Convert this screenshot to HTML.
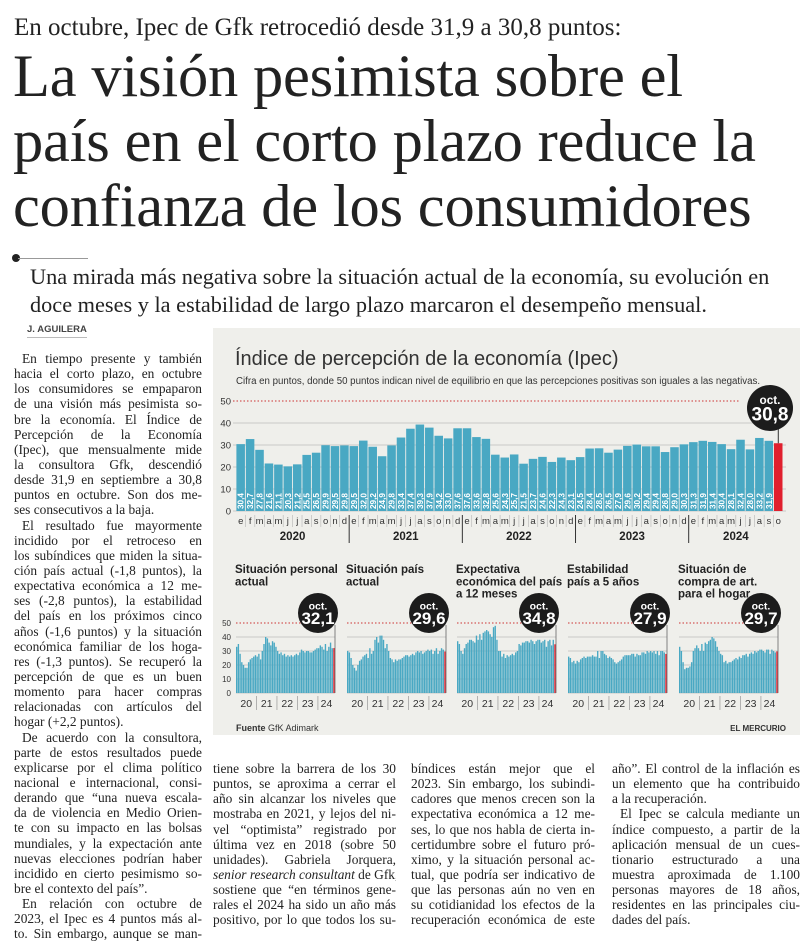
<!DOCTYPE html>
<html><head><meta charset="utf-8">
<style>
*{margin:0;padding:0;box-sizing:border-box}
body{width:811px;height:931px;background:#fff;position:relative;overflow:hidden;font-family:"Liberation Serif",serif;color:#222}
.abs{position:absolute}
.kicker{left:14px;top:14px;font-size:25px;white-space:nowrap}
.title{left:13px;top:44px;font-size:60.5px;line-height:65px;white-space:nowrap;letter-spacing:-0.2px}
.lead{left:30px;top:263px;font-size:22.3px;line-height:28px;white-space:nowrap}
.by{left:27px;top:324px;font-family:"Liberation Sans",sans-serif;font-size:9.5px;font-weight:bold;color:#444;border-bottom:1px solid #bbb;padding-bottom:2px}
.col{font-size:13.4px;line-height:15.15px}
.col div{text-align:justify;text-align-last:justify;white-space:nowrap;overflow:hidden;height:15.15px}
.col div.e{text-align-last:left}
.col div.i{text-indent:8px}
.box{left:213px;top:328px;width:587px;height:407px;background:#efefeb}
</style></head><body>
<div class="abs kicker">En octubre, Ipec de Gfk retrocedió desde 31,9 a 30,8 puntos:</div>
<div class="abs title">La visión pesimista sobre el<br>país en el corto plazo reduce la<br>confianza de los consumidores</div>
<div class="abs" style="left:12px;top:254px;width:8px;height:8px;border-radius:50%;background:#222"></div>
<div class="abs" style="left:18px;top:258px;width:70px;height:1px;background:#999"></div>
<div class="abs lead">Una mirada más negativa sobre la situación actual de la economía, su evolución en<br>doce meses y la estabilidad de largo plazo marcaron el desempeño mensual.</div>
<div class="abs by">J. AGUILERA</div>
<div class="abs box"></div>

<div class="abs col" style="left:14px;top:351px;width:188px">
<div class="i">En tiempo presente y también</div><div>hacia el corto plazo, en octubre</div><div>los consumidores se empaparon</div><div>de una visión más pesimista so-</div><div>bre la economía. El Índice de</div><div>Percepción de la Economía</div><div>(Ipec), que mensualmente mide</div><div>la consultora Gfk, descendió</div><div>desde 31,9 en septiembre a 30,8</div><div>puntos en octubre. Son dos me-</div><div class="e">ses consecutivos a la baja.</div>
<div class="i">El resultado fue mayormente</div><div>incidido por el retroceso en</div><div>los subíndices que miden la situa-</div><div>ción país actual (-1,8 puntos), la</div><div>expectativa económica a 12 me-</div><div>ses (-2,8 puntos), la estabilidad</div><div>del país en los próximos cinco</div><div>años (-1,6 puntos) y la situación</div><div>económica familiar de los hoga-</div><div>res (-1,3 puntos). Se recuperó la</div><div>percepción de que es un buen</div><div>momento para hacer compras</div><div>relacionadas con artículos del</div><div class="e">hogar (+2,2 puntos).</div>
<div class="i">De acuerdo con la consultora,</div><div>parte de estos resultados puede</div><div>explicarse por el clima político</div><div>nacional e internacional, consi-</div><div>derando que “una nueva escala-</div><div>da de violencia en Medio Orien-</div><div>te con su impacto en las bolsas</div><div>mundiales, y la expectación ante</div><div>nuevas elecciones podrían haber</div><div>incidido en cierto pesimismo so-</div><div class="e">bre el contexto del país”.</div>
<div class="i">En relación con octubre de</div><div>2023, el Ipec es 4 puntos más al-</div><div>to. Sin embargo, aunque se man-</div>
</div>
<div class="abs col" style="left:213px;top:761px;width:183px">
<div>tiene sobre la barrera de los 30</div><div>puntos, se aproxima a cerrar el</div><div>año sin alcanzar los niveles que</div><div>mostraba en 2021, y lejos del ni-</div><div>vel “optimista” registrado por</div><div>última vez en 2018 (sobre 50</div><div>unidades). Gabriela Jorquera,</div><div><i>senior research consultant</i> de Gfk,</div><div>sostiene que “en términos gene-</div><div>rales el 2024 ha sido un año más</div><div>positivo, por lo que todos los su-</div>
</div>
<div class="abs col" style="left:411px;top:761px;width:184px">
<div>bíndices están mejor que el</div><div>2023. Sin embargo, los subindi-</div><div>cadores que menos crecen son la</div><div>expectativa económica a 12 me-</div><div>ses, lo que nos habla de cierta in-</div><div>certidumbre sobre el futuro pró-</div><div>ximo, y la situación personal ac-</div><div>tual, que podría ser indicativo de</div><div>que las personas aún no ven en</div><div>su cotidianidad los efectos de la</div><div>recuperación económica de este</div>
</div>
<div class="abs col" style="left:612px;top:761px;width:188px">
<div>año”. El control de la inflación es</div><div>un elemento que ha contribuido</div><div class="e">a la recuperación.</div><div class="i">El Ipec se calcula mediante un</div><div>índice compuesto, a partir de la</div><div>aplicación mensual de un cues-</div><div>tionario estructurado a una</div><div>muestra aproximada de 1.100</div><div>personas mayores de 18 años,</div><div>residentes en las principales ciu-</div><div class="e">dades del país.</div>
</div>

<svg id="chart" class="abs" style="left:0;top:0" width="811" height="931" font-family="Liberation Sans, sans-serif">
<text x="235" y="365" font-size="20" fill="#333">Índice de percepción de la economía (Ipec)</text>
<text x="236" y="384" font-size="9.7" fill="#333">Cifra en puntos, donde 50 puntos indican nivel de equilibrio en que las percepciones positivas son iguales a las negativas.</text>
<text x="236" y="731" font-size="9" fill="#333"><tspan font-weight="bold">Fuente</tspan>  GfK Adimark</text>
<text x="786" y="731" font-size="8" font-weight="bold" fill="#333" text-anchor="end">EL MERCURIO</text>
</svg>
<script>
const mainValues=[30.4,32.7,27.8,21.6,21.1,20.3,21.2,25.5,26.5,29.9,29.5,29.8,
29.5,32.0,29.2,24.9,29.8,33.4,37.4,39.3,37.9,34.2,33.0,37.6,
37.6,33.6,32.8,25.6,24.3,25.7,21.5,23.7,24.6,22.3,24.3,23.1,
24.5,28.4,28.5,26.5,27.9,29.6,30.2,29.4,29.4,26.8,29.0,30.3,
31.3,31.9,31.4,30.4,28.1,32.4,28.0,33.2,31.9,30.8];
const years=["2020","2021","2022","2023","2024"];
const monthLetters=["e","f","m","a","m","j","j","a","s","o","n","d"];
const yTicks=[0,10,20,30,40,50];
const subTitles=[["Situación personal","actual"],["Situación país","actual"],["Expectativa","económica del país","a 12 meses"],["Estabilidad","país a 5 años"],["Situación de","compra de art.","para el hogar"]];
const subLatest=["32,1","29,6","34,8","27,9","29,7"];
const subPersonal=[33,35,28,22,20,18,18,22,24,25,26,27,26,28,24,30,35,40,39,36,34,37,36,33,30,28,29,27,28,26,27,26,27,26,27,28,27,29,31,30,29,30,30,29,29,30,31,32,32,34,33,31,35,30,33,36,32,32.1];
const subPais=[30,29,25,20,18,16,20,23,24,26,27,28,25,32,28,30,38,40,36,41,41,38,32,35,30,25,24,22,24,23,24,24,25,26,27,27,26,27,28,27,29,30,29,30,28,29,30,31,30,31,28,30,32,28,30,32,31,29.6];
const subExpect=[37,35,30,28,32,35,36,38,38,37,36,41,38,42,38,43,44,45,44,42,40,47,48,38,30,30,26,28,25,27,26,27,28,27,29,30,35,34,36,36,37,37,36,38,37,35,37,38,38,36,37,38,33,37,38,34,38,34.8];
const subEstab=[26,25,22,23,21,23,22,24,25,26,25,26,26,26,27,26,26,30,25,30,30,28,27,25,26,25,24,22,21,22,23,24,26,27,27,27,27,28,28,26,28,27,27,29,29,28,30,29,30,29,30,28,30,27,30,30,29,27.9];
const subCompra=[33,30,22,17,18,18,19,22,30,32,34,32,30,35,30,36,35,37,38,40,39,37,33,30,28,27,22,23,21,22,22,23,24,25,24,26,25,27,27,28,26,28,29,28,30,29,30,31,31,30,29,31,31,28,31,30,29,29.7];
const subSeries=[subPersonal,subPais,subExpect,subEstab,subCompra];
const subYears=["20","21","22","23","24"];

const NS="http://www.w3.org/2000/svg";
const svg=document.getElementById('chart');
function mk(tag,attrs,parent){const e=document.createElementNS(NS,tag);for(const k in attrs)e.setAttribute(k,attrs[k]);(parent||svg).appendChild(e);return e;}
const BLUE="#49a8c3",RED="#e0202e";
const mx0=236,mx1=783,my0=511,mPer=2.2;
const n=mainValues.length, pitch=(mx1-mx0)/n;
const xM=i=>mx0+i*pitch, yM=v=>my0-v*mPer;
yTicks.forEach(t=>{
  const l=mk('line',{x1:233,x2:t===50?740:786,y1:yM(t),y2:yM(t),stroke:t===50?"#c33":"#bbb","stroke-width":t===50?1:0.8,"stroke-dasharray":t===50?"1.5,2":"none"});
  
  
  const tx=mk('text',{x:231,y:yM(t)+3.5,"font-size":9.5,fill:"#333","text-anchor":"end"});tx.textContent=t;
  
  
});
mainValues.forEach((v,i)=>{
  const last=i===n-1;
  const r=mk('rect',{x:xM(i)+0.4,y:yM(v),width:pitch-0.9,height:v*mPer,fill:last?RED:BLUE});
  
  
  if(!last){
    const cx=xM(i)+pitch/2+3;
    const t=mk('text',{x:cx,y:my0-2,"font-size":8.2,"font-weight":"bold",fill:"#fff",transform:`rotate(-90 ${cx} ${my0-2})`});
    t.textContent=v.toFixed(1).replace('.',',');
    
    
  }
  const ml=mk('text',{x:xM(i)+pitch/2,y:524,"font-size":9.5,fill:"#333","text-anchor":"middle"});
  ml.textContent=monthLetters[i%12];
  
  
  if(i>0){const sl=mk('line',{x1:xM(i),x2:xM(i),y1:515,y2:527,stroke:i%12===0?"#333":"#aaa","stroke-width":i%12===0?1:0.5});
    if(i%12===0)sl.setAttribute('y2',543);}
});
years.forEach((y,k)=>{
  const cnt=Math.min(12,n-k*12);
  const t=mk('text',{x:xM(k*12)+cnt*pitch/2,y:540,"font-size":11.5,"font-weight":"bold",fill:"#222","text-anchor":"middle"});
  t.textContent=y;
  
  
});
function badge(cx,cy,r,val,fs,name){
  const g=mk('g',{});
  
  
  mk('circle',{cx:cx,cy:cy,r:r,fill:"#1c1c1c"},g);
  const a=mk('text',{x:cx,y:cy-r*0.18,"font-size":fs*0.62,"font-weight":"bold",fill:"#fff","text-anchor":"middle"},g);a.textContent="oct.";
  const b=mk('text',{x:cx,y:cy+r*0.55,"font-size":fs,"font-weight":"bold",fill:"#fff","text-anchor":"middle"},g);b.textContent=val;
}
mk('line',{x1:xM(n-1)+pitch/2,x2:xM(n-1)+pitch/2,y1:420,y2:yM(mainValues[n-1]),stroke:"#333","stroke-width":1});
badge(770,408,23,mainValues[n-1].toFixed(1).replace('.',','),19,'latest-badge');

const sx0=[236,347,457,568,679], sw=99, sy0=693, sPer=1.4;
subSeries.forEach((ser,p)=>{
  const x0=sx0[p], sp=sw/ser.length;
  const ys=v=>sy0-v*sPer;
  subTitles[p].forEach((line,j)=>{
    const t=mk('text',{x:x0-1,y:573+j*12.3,"font-size":11.5,"font-weight":"bold",fill:"#222"});t.textContent=line;
    
    
  });
  yTicks.forEach(t=>{
    mk('line',{x1:x0,x2:x0+sw,y1:ys(t),y2:ys(t),stroke:t===50?"#c33":"#bbb","stroke-width":t===50?1:0.7,"stroke-dasharray":t===50?"1.5,2":"none"});
    if(p===0){const tx=mk('text',{x:231,y:ys(t)+3,"font-size":8,fill:"#333","text-anchor":"end"});tx.textContent=t;}
  });
  ser.forEach((v,i)=>{
    const r=mk('rect',{x:x0+i*sp,y:ys(v),width:sp*0.8,height:v*sPer,fill:i===ser.length-1?RED:BLUE});
    
    
  });
  mk('line',{x1:x0+sw,x2:x0+sw,y1:625,y2:sy0,stroke:"#666","stroke-width":0.8});
  subYears.forEach((y,k)=>{
    const cnt=Math.min(12,ser.length-k*12);
    const t=mk('text',{x:x0+(k*12+cnt/2)*sp,y:707,"font-size":10.5,fill:"#333","text-anchor":"middle"});t.textContent=y;
    
    
    if(k>0)mk('line',{x1:x0+k*12*sp,x2:x0+k*12*sp,y1:696,y2:710,stroke:"#888","stroke-width":0.6});
  });
  badge(x0+82,613,20,subLatest[p],17,'panel-badge-'+p);
});
</script>
</body></html>
